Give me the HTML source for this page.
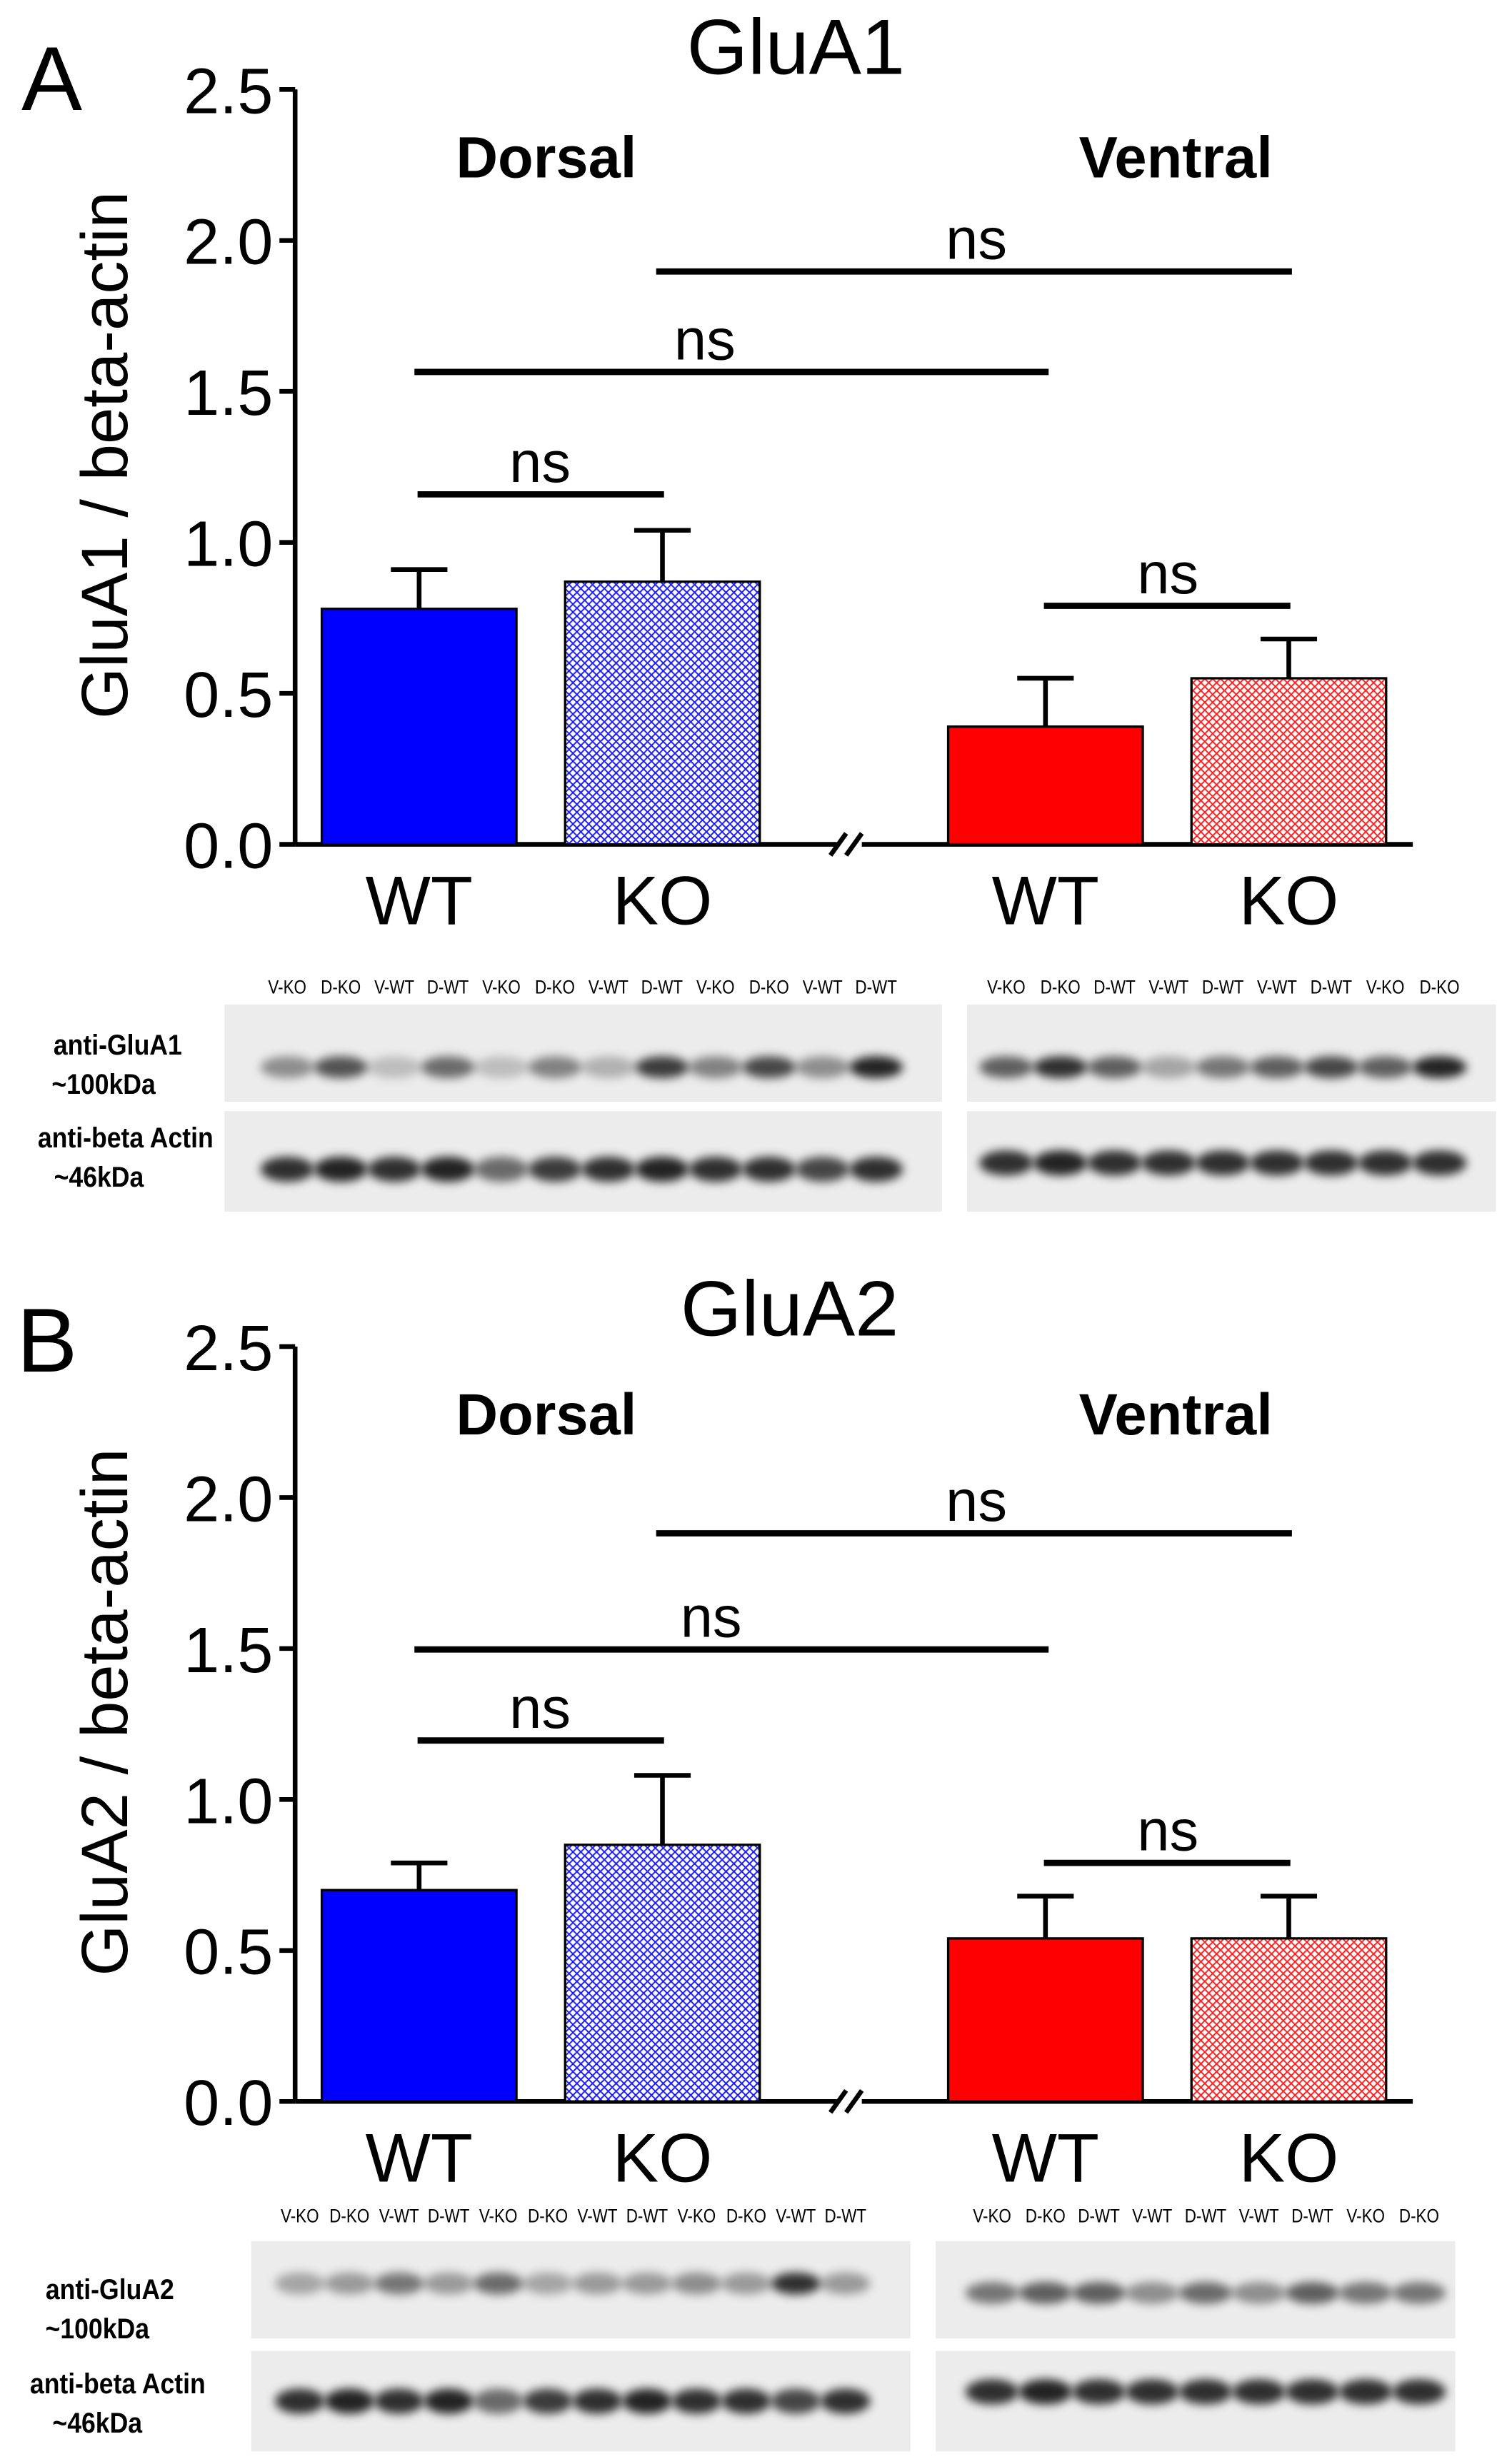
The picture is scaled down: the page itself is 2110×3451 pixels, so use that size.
<!DOCTYPE html>
<html><head><meta charset="utf-8"><style>
html,body{margin:0;padding:0;background:#fff}
svg{display:block}
text{font-family:"Liberation Sans",sans-serif}
</style></head><body>
<svg id="fig" width="2110" height="3451" viewBox="0 0 960 1570" preserveAspectRatio="none" xmlns="http://www.w3.org/2000/svg">
<defs>
<pattern id="hb" width="5" height="5" patternUnits="userSpaceOnUse"><rect width="5" height="5" fill="#fff"/><path d="M0,0L5,5M5,0L0,5" stroke="#1c1cff" stroke-width="0.9"/></pattern>
<pattern id="hr" width="5" height="5" patternUnits="userSpaceOnUse"><rect width="5" height="5" fill="#fff"/><path d="M0,0L5,5M5,0L0,5" stroke="#ff2020" stroke-width="0.9"/></pattern>
<filter id="bl" x="-50%" y="-100%" width="200%" height="300%"><feGaussianBlur stdDeviation="3"/></filter>
</defs>
<g id="root"></g>
</svg>
<script>
const groups = ["Dorsal WT","Dorsal KO","Ventral WT","Ventral KO"];
const ticks = [0,0.5,1.0,1.5,2.0,2.5];
const tickLabels = ["0.0","0.5","1.0","1.5","2.0","2.5"];
const gluA1Means = [0.78,0.87,0.39,0.55];
const gluA1Errs = [0.13,0.17,0.16,0.13];
const gluA2Means = [0.70,0.85,0.54,0.54];
const gluA2Errs = [0.09,0.23,0.14,0.14];
const laneLabelsLeft = ["V-KO","D-KO","V-WT","D-WT","V-KO","D-KO","V-WT","D-WT","V-KO","D-KO","V-WT","D-WT"];
const laneLabelsRight = ["V-KO","D-KO","D-WT","V-WT","D-WT","V-WT","D-WT","V-KO","D-KO"];
const a1Left = [0.4,0.65,0.2,0.55,0.2,0.45,0.25,0.75,0.45,0.7,0.4,0.85];
const a1Right = [0.6,0.8,0.6,0.3,0.5,0.6,0.7,0.6,0.85];
const a2Left = [0.3,0.35,0.5,0.35,0.55,0.3,0.35,0.35,0.4,0.35,0.8,0.35];
const a2Right = [0.5,0.6,0.6,0.4,0.55,0.4,0.6,0.5,0.5];
const actinLeft = [0.8,0.85,0.8,0.85,0.55,0.75,0.8,0.85,0.8,0.8,0.7,0.8];
const actinRight = [0.8,0.85,0.8,0.8,0.8,0.8,0.8,0.8,0.8];

const NS="http://www.w3.org/2000/svg";
const root=document.getElementById('root');
function el(tag,attrs,parent,txt){const e=document.createElementNS(NS,tag);for(const k in attrs)e.setAttribute(k,attrs[k]);if(txt!==undefined)e.textContent=txt;(parent||root).appendChild(e);return e;}

const barX=[205,360,604,759], barW=124;
const fills=["#0000ff","url(#hb)","#ff0000","url(#hr)"];

function panel(o){
  const g=el('g',{});
  
  
  const y0=o.y0, y25=o.y0-481;
  const ys=v=>y0-v/2.5*481;
  let t=el('text',{x:o.lx,y:o.ly,'font-size':58,'text-anchor':'middle'},g,o.letter);
  
  t=el('text',{x:o.tx,y:o.ty,'font-size':50,'text-anchor':'middle'},g,o.title);
  
  t=el('text',{x:0,y:0,'font-size':42,'text-anchor':'middle',transform:`translate(81,${y0-248}) rotate(-90)`},g,o.ylabel);
  
  let ax=el('line',{x1:188,y1:y25,x2:188,y2:y0,stroke:'#000','stroke-width':3},g);
  
  ticks.forEach((v,i)=>{
    const l=el('line',{x1:178,x2:188,y1:ys(v),y2:ys(v),stroke:'#000','stroke-width':3},g);
    
    const tl=el('text',{x:174,y:ys(v)+15,'font-size':41,'text-anchor':'end'},g,tickLabels[i]);
    
  });
  let xa=el('path',{d:`M188 ${y0}H533M549 ${y0}H900`,stroke:'#000','stroke-width':3,fill:'none'},g);
  
  let br=el('path',{d:`M529 ${y0+7}L539 ${y0-7}M539 ${y0+7}L549 ${y0-7}`,stroke:'#000','stroke-width':3},g);
  
  o.means.forEach((m,i)=>{
    const cx=barX[i]+barW/2, top=ys(m), et=ys(m+o.errs[i]);
    const e=el('path',{d:`M${cx} ${top}V${et}M${cx-18} ${et}H${cx+18}`,stroke:'#000','stroke-width':3,fill:'none'},g);
    
    const r=el('rect',{x:barX[i],y:top,width:barW,height:y0-top,fill:fills[i],stroke:'#000','stroke-width':1.5},g);
    
    const xl=el('text',{x:cx,y:y0+51,'font-size':44,'text-anchor':'middle'},g,groups[i].split(' ')[1]);
    
  });
  t=el('text',{x:348,y:y25+56,'font-size':37,'font-weight':'bold','text-anchor':'middle'},g,'Dorsal');
  
  t=el('text',{x:749,y:y25+56,'font-size':37,'font-weight':'bold','text-anchor':'middle'},g,'Ventral');
  
  o.sig.forEach(s=>{
    const l=el('line',{x1:s[0],x2:s[1],y1:s[2],y2:s[2],stroke:'#000','stroke-width':4},g);
    
    const tt=el('text',{x:s[3],y:s[2]-8,'font-size':37,'text-anchor':'middle'},g,'ns');
    
  });
}

function blot(o){
  const g=el('g',{});
  
  
  [[o.y1,o.h1,o.bands,o.bandY],[o.y2,o.h2,o.actin,o.actinY]].forEach((row,ri)=>{
    const r=el('rect',{x:o.x,y:row[0],width:o.w,height:row[1],fill:'#ececec'},g);
    
    row[2].forEach((v,i)=>{
      const cx=o.c0+i*o.dc;
      const b=el('ellipse',{cx:cx,cy:row[0]+row[3],rx:o.dc*0.5,ry:ri?8:7,fill:'#000','fill-opacity':v,filter:'url(#bl)'},g);
      
    });
  });
  o.labels.forEach((s,i)=>{
    const t=el('text',{x:o.c0+i*o.dc,y:o.ly,'font-size':12,'text-anchor':'middle',transform:`translate(${(o.c0+i*o.dc)*0.15},0) scale(0.85,1)`},g,s);
    
  });
}
function blotLabels(lines){
  lines.forEach(l=>{const t=el('text',{x:l[0],y:l[1],'font-size':18,'font-weight':'bold','text-anchor':'middle',transform:`translate(${l[0]*0.1},0) scale(0.9,1)`},root,l[2]);
    });
}

panel({name:'panel-a-chart',y0:538,letter:'A',lx:33,ly:70,title:'GluA1',tx:507,ty:47,ylabel:'GluA1 / beta-actin',
  means:gluA1Means,errs:gluA1Errs,sig:[[418,823,173,622],[264,668,237,449],[266,423,315,344],[665,822,386,744]]});
panel({name:'panel-b-chart',y0:1339,letter:'B',lx:30,ly:874,title:'GluA2',tx:503,ty:851,ylabel:'GluA2 / beta-actin',
  means:gluA2Means,errs:gluA2Errs,sig:[[418,823,977,622],[264,668,1051,453],[266,423,1109,344],[665,822,1187,744]]});

blot({name:'glua1-blot-left',x:143,w:457,y1:640,h1:62,y2:708,h2:64,c0:183,dc:34.1,bands:a1Left,bandY:40,actin:actinLeft,actinY:37,labels:laneLabelsLeft,ly:633});
blot({name:'glua1-blot-right',x:616,w:337,y1:640,h1:62,y2:708,h2:64,c0:641,dc:34.5,bands:a1Right,bandY:40,actin:actinRight,actinY:33,labels:laneLabelsRight,ly:633});
blot({name:'glua2-blot-left',x:160,w:420,y1:1428,h1:62,y2:1498,h2:64,c0:191,dc:31.6,bands:a2Left,bandY:27,actin:actinLeft,actinY:32,labels:laneLabelsLeft,ly:1416});
blot({name:'glua2-blot-right',x:596,w:331,y1:1428,h1:62,y2:1498,h2:64,c0:632,dc:34,bands:a2Right,bandY:33,actin:actinRight,actinY:26,labels:laneLabelsRight,ly:1416});
blotLabels([[75,672,'anti-GluA1'],[66,697,'~100kDa'],[80,731,'anti-beta Actin'],[63,756,'~46kDa'],
  [70,1465,'anti-GluA2'],[62,1490,'~100kDa'],[75,1525,'anti-beta Actin'],[62,1550,'~46kDa']]);
</script>
</body></html>
